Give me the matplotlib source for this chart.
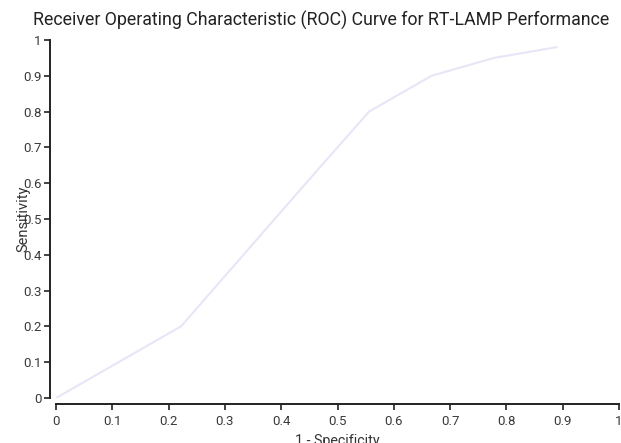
import matplotlib
matplotlib.use("Agg")
import matplotlib.pyplot as plt

plt.rcParams["font.family"] = ["Roboto", "DejaVu Sans"]

fpr = [0, 0.111, 0.222, 0.333, 0.444, 0.556, 0.667, 0.778, 0.889]
tpr = [0, 0.1, 0.2, 0.4, 0.6, 0.8, 0.9, 0.95, 0.98]
xticks = [0, 0.1, 0.2, 0.3, 0.4, 0.5, 0.6, 0.7, 0.8, 0.9, 1]
yticks = [0, 0.1, 0.2, 0.3, 0.4, 0.5, 0.6, 0.7, 0.8, 0.9, 1]

W, H = 621, 443
fig = plt.figure(figsize=(W / 100, H / 100), dpi=100)
ax = fig.add_axes([56 / W, 45 / H, 563 / W, 358 / H])

ax.plot(fpr, tpr, color="#e6e6f7", linewidth=1.5)

ax.set_xlim(0, 1)
ax.set_ylim(0, 1)
ax.set_xticks(xticks)
ax.set_yticks(yticks)
ax.set_xticklabels([f"{t:g}" for t in xticks])
ax.set_yticklabels([f"{t:g}" for t in yticks])

for s in ["top", "right"]:
    ax.spines[s].set_visible(False)
ax.spines["left"].set_position(("outward", 4.3))
ax.spines["bottom"].set_position(("outward", 4.3))
for s in ["left", "bottom"]:
    ax.spines[s].set_linewidth(1.4)
    ax.spines[s].set_color("#222222")

ax.tick_params(axis="both", length=4, width=1.2, color="#222222",
               labelsize=9.5, labelcolor="#3a3a3a", pad=2)
ax.tick_params(axis="x", pad=4)

ax.set_xlabel("1 - Specificity", fontsize=10.3, color="#333333", labelpad=4)
ax.set_ylabel("Sensitivity", fontsize=10.5, color="#333333")
ax.yaxis.set_label_coords(-0.045, 0.5)

fig.text(33 / W, 1 - 20 / H, "Receiver Operating Characteristic (ROC) Curve for RT-LAMP Performance",
         fontsize=12.8, color="#222222", va="center", ha="left")

fig.savefig("out.png", dpi=100)
